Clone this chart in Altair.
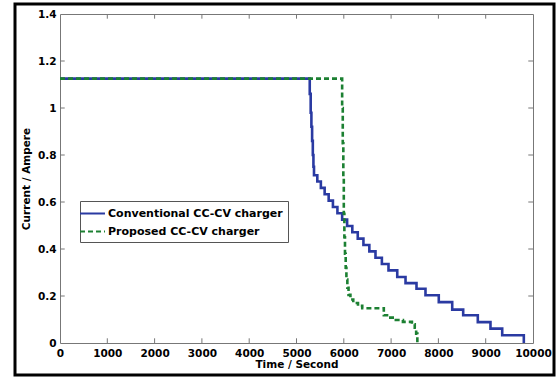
import altair as alt
import pandas as pd

# ---- data ----
x_ticks = list(range(0, 10001, 1000))
y_ticks = [0, 0.2, 0.4, 0.6, 0.8, 1.0, 1.2, 1.4]
series_names = ["Conventional CC-CV charger", "Proposed CC-CV charger"]

# Conventional: step-after points (time in s, current in A)
conv_t = [0, 5280, 5300, 5315, 5330, 5345, 5358, 5370,
          5440, 5515, 5595, 5680, 5770, 5865, 5965, 6070, 6180, 6295,
          6415, 6540, 6670, 6805, 6945,
          7130, 7305, 7537, 7727, 8008, 8292, 8524, 8833, 9101, 9349, 9806]
conv_i = [1.125, 1.06, 0.98, 0.92, 0.86, 0.80, 0.75, 0.714,
          0.687, 0.660, 0.633, 0.606, 0.579, 0.552, 0.525, 0.498, 0.471, 0.444,
          0.417, 0.390, 0.363, 0.336, 0.309,
          0.281, 0.255, 0.231, 0.203, 0.174, 0.142, 0.118, 0.089, 0.061, 0.033, 0.0]

# Proposed: step-after points
prop_t = [0, 5965, 5978, 5990, 6000, 6012, 6025, 6040, 6055, 6075, 6100,
          6140, 6200, 6300, 6390, 6846, 6950, 7100, 7250, 7440, 7500, 7530, 7555]
prop_i = [1.125, 1.0, 0.85, 0.70, 0.55, 0.45, 0.38, 0.32, 0.27, 0.235, 0.205,
          0.185, 0.17, 0.158, 0.148, 0.118, 0.108, 0.098, 0.09, 0.08, 0.065, 0.04, 0.0]

colors = ["#2a3aa2", "#1c8032"]

conv_df = pd.DataFrame({"t": conv_t, "i": conv_i, "series": series_names[0]})
prop_df = pd.DataFrame({"t": prop_t, "i": prop_i, "series": series_names[1]})
xt_df = pd.DataFrame({"v": x_ticks[1:-1]})
yt_df = pd.DataFrame({"v": y_ticks[1:-1]})

FONT = "DejaVu Sans"

x_scale = alt.Scale(domain=[0, 10000], nice=False, zero=False)
y_scale = alt.Scale(domain=[0, 1.4], nice=False, zero=False)

legend_opts = dict(
    orient="none", legendX=20, legendY=187, title=None,
    symbolType="M-2,0H2", symbolSize=156, symbolStrokeWidth=2.2,
    labelFont=FONT, labelFontWeight="bold", labelFontSize=11,
    labelColor="black", strokeColor="#555", fillColor="white",
    padding=5, rowPadding=5, labelOffset=8, labelLimit=300,
)

color_enc = alt.Color(
    "series:N",
    scale=alt.Scale(domain=series_names, range=colors),
    legend=alt.Legend(**legend_opts),
)
dash_enc = alt.StrokeDash(
    "series:N",
    scale=alt.Scale(domain=series_names, range=[[1, 0], [5, 3]]),
    legend=alt.Legend(**legend_opts),
)

x_enc = alt.X(
    "t:Q", scale=x_scale, title="Time / Second",
    axis=alt.Axis(values=x_ticks, format="d", ticks=False, domain=False, grid=False,
                  labelOverlap=False, labelFlush=False,
                  labelFont=FONT, labelFontWeight="bold", labelFontSize=10.5,
                  labelColor="black", labelPadding=5,
                  titleFont=FONT, titleFontWeight="bold", titleFontSize=10.5,
                  titleColor="black", titlePadding=1),
)
y_enc = alt.Y(
    "i:Q", scale=y_scale, title="Current / Ampere",
    axis=alt.Axis(values=y_ticks, format="~g", ticks=False, domain=False, grid=False,
                  labelOverlap=False, labelFlush=False,
                  labelFont=FONT, labelFontWeight="bold", labelFontSize=10.5,
                  labelColor="black", labelPadding=4,
                  titleFont=FONT, titleFontWeight="bold", titleFontSize=10.5,
                  titleColor="black", titlePadding=6),
)

conv = alt.Chart(conv_df).mark_line(interpolate="step-after", strokeWidth=2.6).encode(
    x=x_enc, y=y_enc, color=color_enc, strokeDash=dash_enc)
prop = alt.Chart(prop_df).mark_line(interpolate="step-after", strokeWidth=2.6).encode(
    x=alt.X("t:Q", scale=x_scale), y=alt.Y("i:Q", scale=y_scale),
    color=color_enc, strokeDash=dash_enc)

tick_color = "#777"
xb = alt.Chart(xt_df).mark_rule(color=tick_color, strokeWidth=1).encode(
    x=alt.X("v:Q", scale=x_scale), y=alt.datum(0), y2=alt.datum(0.02))
xtop = alt.Chart(xt_df).mark_rule(color=tick_color, strokeWidth=1).encode(
    x=alt.X("v:Q", scale=x_scale), y=alt.datum(1.4), y2=alt.datum(1.38))
yl = alt.Chart(yt_df).mark_rule(color=tick_color, strokeWidth=1).encode(
    y=alt.Y("v:Q", scale=y_scale), x=alt.datum(0), x2=alt.datum(100))
yr = alt.Chart(yt_df).mark_rule(color=tick_color, strokeWidth=1).encode(
    y=alt.Y("v:Q", scale=y_scale), x=alt.datum(10000), x2=alt.datum(9900))

border = alt.Chart(pd.DataFrame({"a": [0]})).mark_rect(
    filled=False, stroke="black", strokeWidth=3).encode(
    x=alt.value(-45), x2=alt.value(494), y=alt.value(-10), y2=alt.value(361))

chart = alt.layer(xb, xtop, yl, yr, conv, prop, border).properties(
    width=473, height=329,
    autosize=alt.AutoSizeParams(type="none"),
    padding={"left": 60, "top": 14, "right": 24, "bottom": 34},
    background="white",
).configure_view(stroke="#777", strokeWidth=1)

chart.save("out.html", embed_options={"renderer": "svg", "actions": False})
